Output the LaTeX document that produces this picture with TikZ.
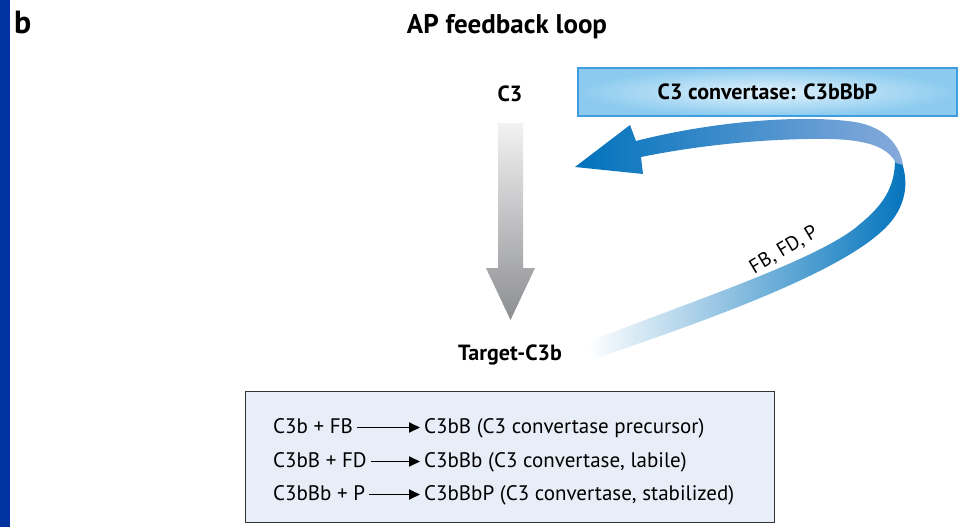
\documentclass[tikz,border=0pt]{standalone}
\usepackage{fontspec}
\setmainfont{PT Sans}
\usetikzlibrary{arrows.meta}

\definecolor{sidebar}{HTML}{0033A0}
\definecolor{loopblue}{HTML}{0072BC}
\definecolor{looplight}{HTML}{86AADB}
\definecolor{loopmid}{HTML}{8DB1DE}
\definecolor{boxedge}{HTML}{3D9EE0}
\definecolor{boxglow}{HTML}{E2F2FC}
\definecolor{boxrim}{HTML}{8CCBEF}
\definecolor{panelfill}{HTML}{E7EEF8}
\definecolor{arrowgrey}{HTML}{8D8E92}

\begin{document}
\begin{tikzpicture}[x=1pt, y=-1pt]
                \tikzstyle{species} = [font=\fontsize{22}{24}\selectfont\bfseries, inner sep=0pt, anchor=base]
                \tikzstyle{reaction} = [font=\fontsize{21}{24}\selectfont, inner xsep=4pt, inner ysep=0pt, text height=15pt, text depth=4pt, anchor=base west]
                \tikzstyle{yields} = [line width=1.8pt, -{Triangle[length=11pt, width=10pt]}]
                \tikzstyle{convertase} = [draw=boxedge, line width=1.5pt, inner color=boxglow, outer color=boxrim, minimum width=379pt, minimum height=48pt]
                \useasboundingbox (0, 0) rectangle (961, 527);
                \fill[sidebar] (0, 0) rectangle (10, 527);
                \node[font=\fontsize{32}{32}\selectfont\bfseries, inner sep=0pt, anchor=base west] (panel) at (14, 34) {b};
                \node[font=\fontsize{27}{28}\selectfont\bfseries, inner sep=0pt, anchor=base] (title) at (507, 34) {AP feedback loop};
                \node[species] (c3) at (510, 101) {C3};
                \node[species] (target) at (510, 360) {Target-C3b};
                \node[convertase, font=\fontsize{22}{24}\selectfont\bfseries] (enzyme) at (767.5, 92) {C3 convertase: C3bBbP};
                \shade[top color=white!95!black, bottom color=arrowgrey] (498, 123) -- (523, 123) -- (523, 268) -- (535, 268) -- (510.5, 320) -- (486, 268) -- (498, 268) -- cycle;
                \shade[left color=white, middle color=loopmid, right color=loopblue] (588, 342) .. controls (680, 305) and (820, 260) .. (860, 224) .. controls (882, 206) and (895, 188) .. (895, 160) -- (902, 163) .. controls (910, 187) and (904, 212) .. (881, 232) .. controls (830, 278) and (690, 326) .. (594, 359) -- cycle;
                \shade[left color=loopblue, right color=looplight] (575, 167) -- (630, 125) -- (636, 141) .. controls (710, 122) and (800, 114) .. (855, 122) .. controls (885, 127) and (900, 145) .. (903, 165) -- (896, 163) .. controls (888, 148) and (870, 140) .. (830, 139) .. controls (760, 138) and (690, 147) .. (641, 157) -- (643, 174) -- cycle;
                \node[font=\fontsize{20}{22}\selectfont, rotate=31, inner sep=0pt] (cofactors) at (784, 250) {FB, FD, P};
                \draw[draw=black!80, fill=panelfill, line width=0.9pt] (245, 391) rectangle (774, 522);
                \node[reaction] (lhs1) at (269, 433) {C3b + FB};
                \node[reaction] (rhs1) at (420, 433) {C3bB (C3 convertase precursor)};
                \node[reaction] (lhs2) at (269, 467) {C3bB + FD};
                \node[reaction] (rhs2) at (420, 467) {C3bBb (C3 convertase, labile)};
                \node[reaction] (lhs3) at (269, 500) {C3bBb + P};
                \node[reaction] (rhs3) at (420, 500) {C3bBbP (C3 convertase, stabilized)};
                \draw[yields] (lhs1) -- (rhs1);
                \draw[yields] (lhs2) -- (rhs2);
                \draw[yields] (lhs3) -- (rhs3);
            \end{tikzpicture}
\end{document}
